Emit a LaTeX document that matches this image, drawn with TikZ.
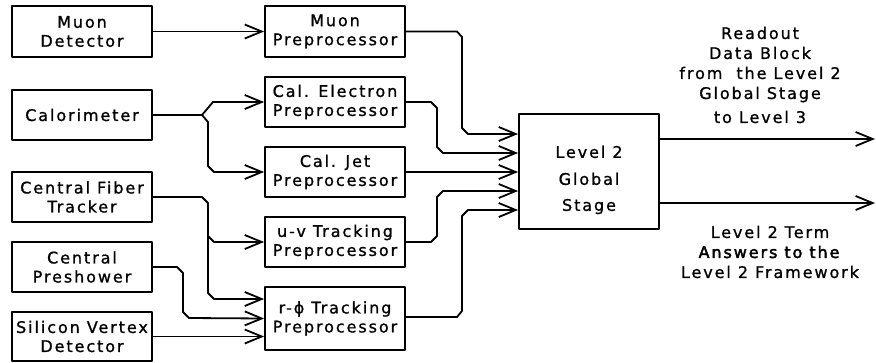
\documentclass[tikz,border=0pt]{standalone}
\usepackage{fontspec}
\setmainfont{DejaVu Sans}[LetterSpace=12,
  UprightFeatures={RawFeature={embolden=1}},
  BoldFont={DejaVu Sans},
  BoldFeatures={RawFeature={embolden=2.5}}]
\usetikzlibrary{arrows.meta}
\begin{document}
\begin{tikzpicture}[x=1pt,y=-1pt,line width=1.8pt,line join=round,
  box/.style={draw,rectangle,inner sep=0pt,align=center,minimum width=140pt,minimum height=50pt,font=\fontsize{16}{19}\selectfont},
  lbl/.style={inner sep=0pt,align=center,font=\fontsize{16}{20}\selectfont},
  arr/.style={-{Straight Barb[length=17pt,width=14pt]}}]
\useasboundingbox (0,0) rectangle (876,362);
% sources
\node[box,minimum height=51pt] (md) at (82,31.5) {Muon\\Detector};
\node[box] (cal) at (82,115) {Calorimeter};
\node[box] (cft) at (82,197) {Central Fiber\\Tracker};
\node[box] (cps) at (82,267) {Central\\Preshower};
\node[box,minimum height=49pt] (svd) at (82,336.5) {Silicon Vertex\\Detector};
% preprocessors
\node[box,minimum height=51pt] (mp) at (335,31.5) {Muon\\Preprocessor};
\node[box] (cep) at (335,102) {Cal. Electron\\Preprocessor};
\node[box] (cjp) at (335,172) {Cal. Jet\\Preprocessor};
\node[box] (uvp) at (335,242) {u-v Tracking\\Preprocessor};
\node[box,minimum height=63pt] (rpp) at (335,318.5) {r-ϕ Tracking\\Preprocessor};
% global
\node[box,minimum height=115pt] (gs) at (589,171.5) {\mbox{}\\[10pt]Level 2\\[8pt]Global\\[7pt]Stage};
% outputs
\coordinate (o1) at (875,139);
\coordinate (o2) at (875,203);
% labels
\node[lbl] (tl) at (760,75) {Readout\\Data Block\\from~ the Level 2\\Global Stage\\[4pt]to Level 3};
\node[lbl] (bl) at (770,252) {Level 2 Term\\\textbf{Answers to the}\\Level 2 Framework};
% connectors: sources to preprocessors
\draw[arr] (md.east) -- (mp.west);
\draw[arr] (cal.east) -- (202,115) -- (213,102) -- (cep.west);
\draw[arr] (202,115) -- (208,122) -- (208,166) -- (214,172) -- (cjp.west);
\draw[arr] (cft.east) -- (202,197) -- (208,203) -- (208,236) -- (214,242) -- (uvp.west);
\draw[arr] (208,236) -- (208,293) -- (214,299) -- (rpp.west |- 0,299);
\draw[arr] (cps.east) -- (177,267) -- (183,273) -- (183,312) -- (189,318) -- (rpp.west);
\draw[arr] (svd.east) -- (rpp.west |- svd.east);
% preprocessors to global
\draw[arr] (mp.east) -- (457,31.5) -- (462,37) -- (462,128) -- (468,134) -- (gs.west |- 0,134);
\draw[arr] (cep.east) -- (431,102) -- (437,108) -- (437,147) -- (443,153) -- (gs.west |- 0,153);
\draw[arr] (cjp.east) -- (gs.west |- cjp.east);
\draw[arr] (uvp.east) -- (431,242) -- (437,236) -- (437,197) -- (443,191) -- (gs.west |- 0,191);
\draw[arr] (rpp.east |- 0,317) -- (457,317) -- (462,311) -- (462,216) -- (468,210) -- (gs.west |- 0,210);
% outputs
\draw[arr] (gs.east |- o1) -- (o1);
\draw[arr] (gs.east |- o2) -- (o2);
\end{tikzpicture}
\end{document}
